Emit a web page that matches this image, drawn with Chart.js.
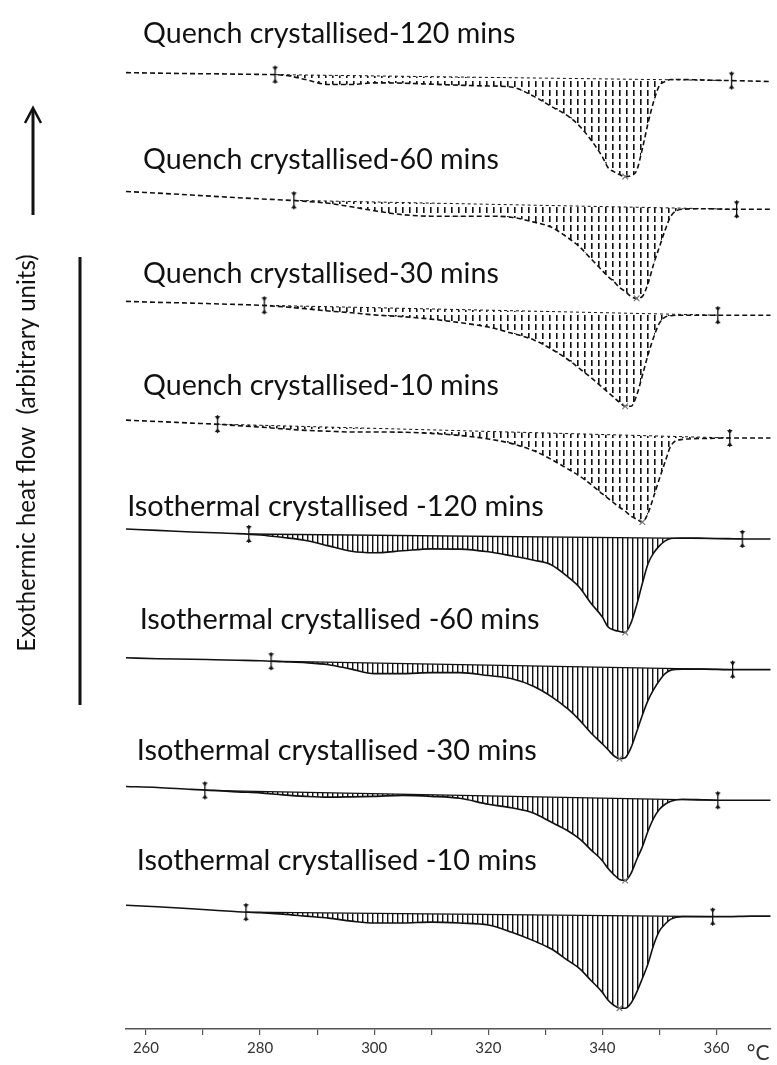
<!DOCTYPE html>
<html>
<head>
<meta charset="utf-8">
<title>DSC melting endotherms</title>
<script src="https://cdn.jsdelivr.net/npm/chart.js@4/dist/chart.umd.min.js"></script>
<style>
    html, body { margin: 0; padding: 0; background: #fff; }
    canvas { display: block; }
</style>
</head>
<body>
<canvas id="dscChart" width="777" height="1065"></canvas>
<script>
// Nhiệt độ (°C) - lưới chung cho tất cả các đường
var tempC = [256.5, 262, 268, 272, 276, 280, 284, 288, 292, 296, 300, 305, 310, 315, 320, 324, 328, 331, 334, 336,
    338, 340, 341, 342, 343, 344, 345, 346, 347, 348, 349, 350, 351, 352, 354, 358, 362, 366, 369.5];

// Heat flow (arbitrary units), 0 = đầu đường cong
var quench120 = [0, -0.5, -1, -1.2, -1.5, -1.8, -2.5, -7, -12, -12, -10.3, -10.6, -11.7, -12.7, -13.5, -14.5, -24, -34, -44, -54,
    -68, -85, -96, -100, -103, -105, -104, -99, -77, -51, -29, -13, -9, -7, -7, -7.5, -8, -8.5, -9];
var quench60 = [0, -1.7, -3.6, -5, -6.3, -7.5, -8.6, -10, -12, -15.5, -19.5, -23.5, -25, -25, -25, -26, -31, -36, -47, -56,
    -68, -80, -86, -91, -97, -101, -106, -108, -106, -93, -73, -56, -39, -25, -18, -17.5, -18, -18, -18];
var quench30 = [0, -1, -1.8, -2.5, -3.2, -4, -5.5, -7.5, -9.8, -11.5, -13.7, -15.5, -18, -21.5, -26, -32, -39, -48, -59, -68,
    -77, -87, -92, -97, -102, -106, -106, -95, -75, -54, -36, -22, -16, -14.5, -14, -14, -14, -14, -14];
var quench10 = [0, -1.4, -3, -4, -5.5, -7, -8.8, -10.3, -11.2, -12, -12, -12.2, -13.4, -15.5, -19, -23.5, -31, -39.5, -49.5, -56.5,
    -65, -74.5, -79, -83.5, -88, -92, -97, -100, -103, -94, -77, -59, -42, -26, -19.5, -18.5, -18, -18, -18];
var iso120 = [0, -1.4, -3, -3.8, -4.6, -6, -8.5, -11.5, -17, -22.5, -24, -22, -20, -20.3, -23, -27, -31.5, -36, -48.5, -59,
    -75, -89, -99, -102, -103.5, -104.5, -95, -77, -55, -35, -24, -17, -12, -9.5, -9, -9.3, -9.7, -10, -10];
var iso60 = [0, -1, -1.5, -2, -2.5, -3, -4, -5, -7, -11.5, -16, -16, -15, -15, -18, -21, -29, -39, -52, -63,
    -76, -87, -93, -99, -102, -101, -91, -75, -58, -43, -32, -23, -16, -12.5, -11.5, -11.5, -12, -12, -12];
var iso30 = [0, -1, -3, -4, -5.5, -6.5, -8.5, -10, -10.8, -10.5, -10, -9, -10, -12, -18, -21.5, -27, -36, -45, -53,
    -64, -75, -83, -89, -94, -95, -88, -74, -61, -45, -32, -23, -18, -15, -13, -13.5, -14, -14, -14];
var iso10 = [0, -1.5, -3.5, -5, -6.5, -7.5, -9, -11, -13, -16, -18, -18, -17, -18, -20, -27, -36, -44, -56, -64,
    -76, -88, -96, -101, -104, -104, -99, -88, -74, -59, -40, -26, -19, -14, -11.5, -11.5, -11.5, -11, -11];

var curveNames = ['Quench crystallised-120 mins', 'Quench crystallised-60 mins', 'Quench crystallised-30 mins',
    'Quench crystallised-10 mins', 'Isothermal crystallised -120 mins', 'Isothermal crystallised -60 mins',
    'Isothermal crystallised -30 mins', 'Isothermal crystallised -10 mins'];
var curveFlows = [quench120, quench60, quench30, quench10, iso120, iso60, iso30, iso10];
// độ dịch dọc của từng đường (xếp chồng)
var curveOffsets = [966, 846, 735, 615, 505, 375, 245, 125];

// giới hạn tích phân (°C) và giá trị baseline tại đó
var limitLow = [282.6, 285.9, 280.7, 272.5, 278.0, 281.9, 270.3, 277.5];
var limitHigh = [362.6, 363.5, 360.2, 362.3, 364.5, 362.8, 360.2, 359.3];
var baseLow = [-2, -9, -4, -4, -5, -3.5, -4, -7];
var baseHigh = [-8, -18, -14, -18, -10, -12, -14, -11.5];

var xTickLabels = [260, 280, 300, 320, 340, 360];

// vị trí nhãn (không phải dữ liệu): nhiệt độ mép trái, khoảng cách trên đường
var labelPos = [
    { t: 259.5, dy: 39 }, { t: 259.5, dy: 32 }, { t: 259.5, dy: 28 }, { t: 259.5, dy: 35 },
    { t: 256.7, dy: 23 }, { t: 258.9, dy: 38 }, { t: 258.4, dy: 36 }, { t: 258.4, dy: 45 }
];
var FONT = 'Lato, "Open Sans", sans-serif';

/**
 * Tạo pattern gạch dọc cho vùng peak
 * dotted = true: nét đứt (quench), false: nét liền (isothermal)
 */
function makeHatch(dotted) {
    var c = document.createElement('canvas');
    c.width = dotted ? 7 : 5;
    c.height = dotted ? 9 : 4;
    var g = c.getContext('2d');
    g.fillStyle = '#111';
    if (dotted) {
        g.fillRect(3, 0, 1.6, 6);
    }
    else {
        g.fillRect(2, 0, 1.4, 4);
    }
    return g.createPattern(c, 'repeat');
}

// ký hiệu giới hạn tích phân
function makeLimitMark() {
    var c = document.createElement('canvas');
    c.width = 9;
    c.height = 22;
    var g = c.getContext('2d');
    g.fillStyle = '#111';
    g.fillRect(4, 2, 1.3, 18);
    g.beginPath(); g.moveTo(2, 3); g.lineTo(7.5, 3); g.lineTo(4.6, 7); g.closePath(); g.fill();
    g.beginPath(); g.moveTo(2, 19); g.lineTo(7.5, 19); g.lineTo(4.6, 15); g.closePath(); g.fill();
    return c;
}

function buildDatasets() {
    var sets = [];
    var hatchQ = makeHatch(true), hatchI = makeHatch(false);
    var mark = makeLimitMark();
    curveFlows.forEach(function (flow, k) {
        var quench = k < 4;
        var off = curveOffsets[k];
        var peak = flow.indexOf(Math.min.apply(null, flow));
        sets.push({
            label: curveNames[k],
            data: tempC.map(function (t, i) { return { x: t, y: off + flow[i] }; }),
            borderColor: '#111',
            borderWidth: 1.6,
            borderDash: quench ? [5, 3] : [],
            cubicInterpolationMode: 'monotone',
            fill: { target: '+1', above: 'rgba(0,0,0,0)', below: quench ? hatchQ : hatchI },
            pointStyle: 'crossRot',
            pointRadius: function (c) { return c.dataIndex === peak ? 4 : 0; },
            pointBorderColor: '#777',
            pointBorderWidth: 1.2
        });
        sets.push({
            label: curveNames[k] + ' baseline',
            data: [{ x: limitLow[k], y: off + baseLow[k] }, { x: limitHigh[k], y: off + baseHigh[k] }],
            borderColor: '#111',
            borderWidth: quench ? 1 : 1.3,
            borderDash: quench ? [3, 3] : [],
            fill: false,
            pointStyle: mark,
            pointRadius: 5
        });
    });
    return sets;
}

// cỡ chữ sao cho dòng chữ có độ rộng cho trước
function fitFont(ctx, text, width) {
    ctx.font = '100px ' + FONT;
    return 100 * width / ctx.measureText(text).width;
}

var annotatePlugin = {
    id: 'annotate',
    afterDraw: function (chart) {
        var ctx = chart.ctx, xs = chart.scales.x, ys = chart.scales.y;
        ctx.save();
        ctx.fillStyle = '#111';
        ctx.textBaseline = 'middle';
        ctx.textAlign = 'left';
        var qSize = fitFont(ctx, curveNames[0], 372);
        var iSize = fitFont(ctx, curveNames[5], 400);
        curveNames.forEach(function (name, k) {
            ctx.font = (k < 4 ? qSize : iSize).toFixed(1) + 'px ' + FONT;
            ctx.fillText(name, xs.getPixelForValue(labelPos[k].t), ys.getPixelForValue(curveOffsets[k] + labelPos[k].dy));
        });

        // đơn vị trục x
        ctx.font = '21px ' + FONT;
        ctx.fillStyle = '#333';
        ctx.textAlign = 'center';
        ctx.fillText('\u00B0C', xs.getPixelForValue(367.3), 1053);

        // tiêu đề trục y (xoay)
        var yTitle = 'Exothermic heat flow  (arbitrary units)';
        ctx.fillStyle = '#111';
        ctx.save();
        ctx.translate(27, 453);
        ctx.rotate(-Math.PI / 2);
        ctx.font = fitFont(ctx, yTitle, 397).toFixed(1) + 'px ' + FONT;
        ctx.fillText(yTitle, 0, 0);
        ctx.restore();

        // mũi tên và thanh dọc
        ctx.strokeStyle = '#111';
        ctx.lineWidth = 3;
        ctx.beginPath();
        ctx.moveTo(33, 215); ctx.lineTo(33, 110);
        ctx.stroke();
        ctx.lineWidth = 2.5;
        ctx.beginPath();
        ctx.moveTo(25, 123); ctx.lineTo(33, 108); ctx.lineTo(41, 123);
        ctx.stroke();
        ctx.lineWidth = 3;
        ctx.beginPath();
        ctx.moveTo(80, 257); ctx.lineTo(80, 705);
        ctx.stroke();
        ctx.restore();
    }
};

var ctx = document.getElementById('dscChart').getContext('2d');
var chart = new Chart(ctx, {
    type: 'line',
    data: { datasets: buildDatasets() },
    options: {
        responsive: false,
        devicePixelRatio: 1,
        animation: false,
        events: [],
        layout: { padding: { left: 126, right: 0, top: 0, bottom: 4 } },
        plugins: { legend: { display: false }, tooltip: { enabled: false } },
        scales: {
            x: {
                type: 'linear',
                min: 256.5,
                max: 369.5,
                grid: { drawOnChartArea: false, drawTicks: true, tickLength: 6, color: '#555', lineWidth: 1.2 },
                border: { display: true, color: '#555', width: 1.5 },
                ticks: {
                    stepSize: 10,
                    includeBounds: false,
                    autoSkip: false,
                    maxRotation: 0,
                    padding: 4,
                    color: '#333',
                    font: { family: 'Lato', size: 15 },
                    callback: function (v) { return xTickLabels.indexOf(v) >= 0 ? String(v) : ''; }
                }
            },
            y: { type: 'linear', display: false, min: 0, max: 1033 }
        }
    },
    plugins: [annotatePlugin]
});
</script>
</body>
</html>
